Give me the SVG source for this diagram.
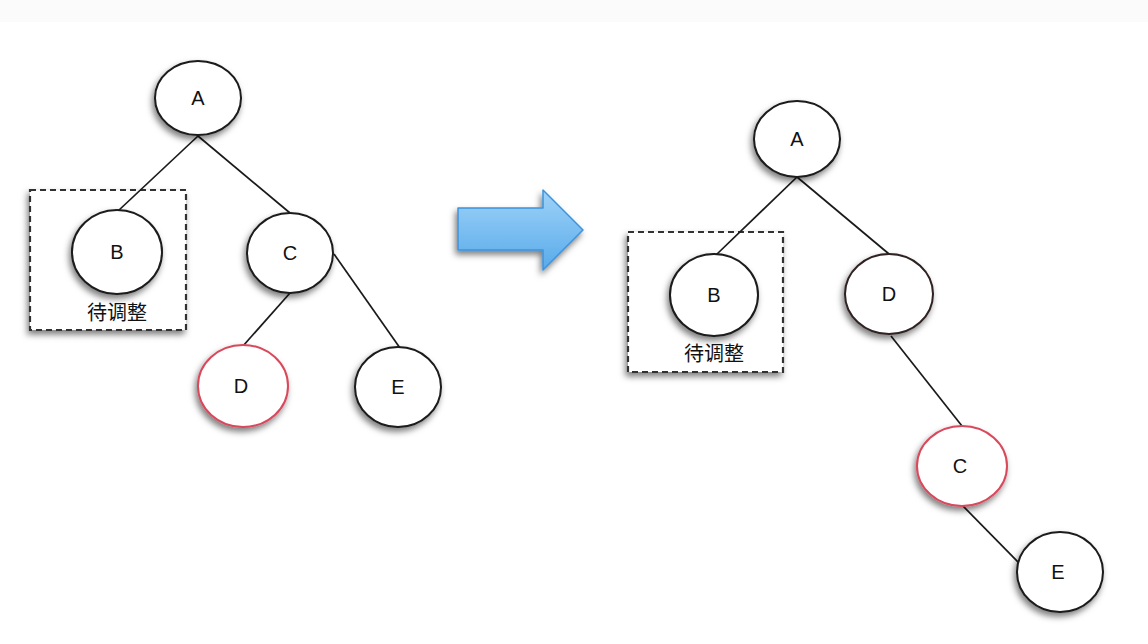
<svg xmlns="http://www.w3.org/2000/svg" width="1148" height="644" viewBox="0 0 1148 644">
  <defs>
    <filter id="shadow" x="-30%" y="-30%" width="160%" height="170%">
      <feDropShadow dx="-2" dy="4" stdDeviation="3" flood-color="#000" flood-opacity="0.5"/>
    </filter>
    <linearGradient id="arrowFill" x1="0" y1="0" x2="0" y2="1">
      <stop offset="0" stop-color="#9fd2f8"/>
      <stop offset="1" stop-color="#58aaea"/>
    </linearGradient>
    <style>
      .node { fill: #fff; stroke: #1a1a1a; stroke-width: 2; filter: url(#shadow); }
      .hot { stroke: #d8485c; }
      .box { fill: #fff; stroke: #333; stroke-width: 2.2; stroke-dasharray: 6 4; filter: url(#shadow); }
      .edge { stroke: #1a1a1a; stroke-width: 1.7; fill: none; }
      .lbl { font-family: "Liberation Sans", Arial, sans-serif; font-size: 20px; fill: #111; text-anchor: middle; dominant-baseline: central; }
      .cn { font-family: "Liberation Sans", "Noto Sans CJK SC", sans-serif; font-size: 20px; fill: #111; text-anchor: middle; dominant-baseline: central; }
    </style>
  </defs>

  <rect width="1148" height="644" fill="#fff"/>
  <rect width="1148" height="22" fill="#fbfbfb"/>

  <!-- adjust boxes -->
  <g id="box-left"><rect class="box" x="30" y="190" width="156" height="140"/></g>
  <g id="box-right"><rect class="box" x="628" y="232" width="155" height="140"/></g>

  <!-- connectors -->
  <g id="edges">
    <line class="edge" x1="198" y1="136" x2="118" y2="211"/>
    <line class="edge" x1="198" y1="136" x2="290" y2="213"/>
    <line class="edge" x1="290" y1="293" x2="243" y2="346"/>
    <line class="edge" x1="334" y1="254" x2="400" y2="348"/>
    <line class="edge" x1="797" y1="177" x2="716" y2="255"/>
    <line class="edge" x1="797" y1="177" x2="889" y2="254"/>
    <line class="edge" x1="891" y1="336" x2="962" y2="426"/>
    <line class="edge" x1="962" y1="505" x2="1022" y2="566"/>
  </g>

  <!-- left tree -->
  <g id="L-A"><ellipse class="node" cx="198" cy="98" rx="43" ry="37"/><text class="lbl" x="198" y="98">A</text></g>
  <g id="L-B"><ellipse class="node" cx="117" cy="252" rx="45" ry="42"/><text class="lbl" x="117" y="252">B</text></g>
  <text class="cn" x="117" y="313">待调整</text>
  <g id="L-C"><ellipse class="node" cx="290" cy="253" rx="43" ry="40"/><text class="lbl" x="290" y="253">C</text></g>
  <g id="L-D"><ellipse class="node hot" cx="243" cy="386" rx="45" ry="41"/><text class="lbl" x="241" y="386">D</text></g>
  <g id="L-E"><ellipse class="node" cx="398" cy="387" rx="43" ry="40"/><text class="lbl" x="398" y="387">E</text></g>

  <!-- transform arrow -->
  <g id="arrow">
    <path d="M458,208 H543 V190 L583,230 L543,270 V250 H458 Z" fill="url(#arrowFill)" stroke="#3d93dc" stroke-width="1.5" stroke-linejoin="round" filter="url(#shadow)"/>
  </g>

  <!-- right tree -->
  <g id="R-A"><ellipse class="node" cx="797" cy="139" rx="43" ry="38"/><text class="lbl" x="797" y="139">A</text></g>
  <g id="R-B"><ellipse class="node" cx="714" cy="295" rx="44" ry="41"/><text class="lbl" x="714" y="295">B</text></g>
  <text class="cn" x="714" y="354">待调整</text>
  <g id="R-D"><ellipse class="node" cx="889" cy="294" rx="44" ry="40" style="stroke:#2e2020"/><text class="lbl" x="889" y="294">D</text></g>
  <g id="R-C"><ellipse class="node hot" cx="962" cy="466" rx="45" ry="40"/><text class="lbl" x="960" y="466">C</text></g>
  <g id="R-E"><ellipse class="node" cx="1060" cy="572" rx="43" ry="40"/><text class="lbl" x="1058" y="572">E</text></g>
</svg>
